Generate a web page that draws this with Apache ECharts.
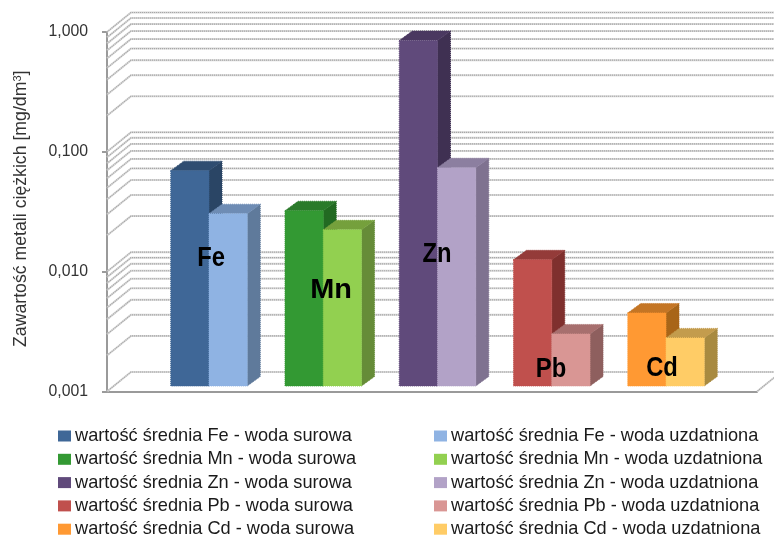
<!DOCTYPE html>
<html><head><meta charset="utf-8">
<style>html,body{margin:0;padding:0;background:#fff}#c{width:774px;height:538px}</style>
<script src="https://cdn.jsdelivr.net/npm/echarts@6/dist/echarts.min.js"></script>
</head><body><div id="c"></div>
<script>
var metals = ['Fe','Mn','Zn','Pb','Cd'];
var rawValues = [0.0627,0.0290,0.763,0.0113,0.00407];
var treatedValues = [0.0274,0.0201,0.0663,0.00272,0.00252];
var gridValues = [0.001,0.002,0.003,0.004,0.005,0.006,0.007,0.008,0.009,
                  0.01,0.02,0.03,0.04,0.05,0.06,0.07,0.08,0.09,
                  0.1,0.2,0.3,0.4,0.5,0.6,0.7,0.8,0.9,1];
var rawColors = [['#3F6797','#2F4D71','#2A4565'],['#339933','#2A7A2A','#226A22'],['#604A7B','#4A3860','#3F3052'],['#C0504D','#943B39','#7F302E'],['#FF9933','#C47524','#A86518']];
var treatedColors = [['#8FB3E3','#6E8CB4','#5F7A9B'],['#92D050','#75A03C','#668C38'],['#B2A2C7','#8C7FA0','#7F7290'],['#D99694','#A76F6E','#8E5F5E'],['#FFCC66','#C39C4D','#A88A40']];

var X_MIN=-0.849, X_MAX=4.84, Y_MIN=0.001, Y_MAX=1, BAR=0.335;
var WALL_DX=24, WALL_DY=-19.5, SHIFT_DX=5, SHIFT_DY=-5.5, DEPTH_DX=13, DEPTH_DY=-9.5;

function nameOf(m,kind){return 'wartość średnia '+m+' - woda '+kind;}

function barSeries(metalIdx,kind,value,col){
  return {
    name:nameOf(metals[metalIdx],kind),
    type:'custom',
    coordinateSystem:'cartesian2d',
    clip:false,
    z:kind==='surowa'?3:4,
    itemStyle:{color:col[0]},
    encode:{x:0,y:1},
    data:[[metalIdx,value]],
    renderItem:function(params,api){
      var c=api.value(0),v=api.value(1);
      var a=kind==='surowa'?c-BAR:c, b=kind==='surowa'?c:c+BAR;
      var tl=api.coord([a,v]), br=api.coord([b,Y_MIN]);
      var x0=tl[0]+SHIFT_DX,x1=br[0]+SHIFT_DX,y0=tl[1]+SHIFT_DY,y1=br[1]+SHIFT_DY;
      var dx=DEPTH_DX,dy=DEPTH_DY;
      function edge(fill){return {fill:fill,stroke:fill,lineWidth:1,lineDash:[1,1]};}
      return {type:'group',children:[
        {type:'polygon',shape:{points:[[x1,y0],[x1+dx,y0+dy],[x1+dx,y1+dy],[x1,y1]]},style:edge(col[2])},
        {type:'polygon',shape:{points:[[x0,y0],[x0+dx,y0+dy],[x1+dx,y0+dy],[x1,y0]]},style:edge(col[1])},
        {type:'rect',shape:{x:x0,y:y0,width:x1-x0,height:y1-y0},style:edge(col[0])}
      ]};
    }
  };
}

var series=[{
  type:'custom',coordinateSystem:'cartesian2d',clip:false,silent:true,z:1,
  encode:{y:0},
  data:gridValues.map(function(v){return [v];}),
  renderItem:function(params,api){
    var v=api.value(0);
    var p=api.coord([X_MIN,v]), q=api.coord([X_MAX,v]);
    var pts=[[p[0],p[1]],[p[0]+WALL_DX,p[1]+WALL_DY],[q[0]+WALL_DX,q[1]+WALL_DY]];
    if(v===Y_MIN){pts=[[p[0],p[1]],[p[0]+WALL_DX,p[1]+WALL_DY],[q[0]+WALL_DX,q[1]+WALL_DY],[q[0],q[1]]];}
    return {type:'group',children:[
      {type:'polyline',shape:{points:pts},style:{fill:null,stroke:'#d8d8d8',lineWidth:2}},
      {type:'polyline',shape:{points:pts},style:{fill:null,stroke:'#a4a4a4',lineWidth:1.2,lineDash:[1,1]}}
    ]};
  }
}];
metals.forEach(function(m,i){
  series.push(barSeries(i,'surowa',rawValues[i],rawColors[i]));
  series.push(barSeries(i,'uzdatniona',treatedValues[i],treatedColors[i]));
});

function legend(kind,left){
  return {
    orient:'vertical',left:left,top:427,height:120,itemWidth:13,itemHeight:11,itemGap:5.3,
    icon:'rect',selectedMode:false,padding:0,
    textStyle:{fontFamily:'Liberation Sans',fontSize:18.2,color:'#1a1a1a',padding:[0,0,0,-1]},
    data:metals.map(function(m){return nameOf(m,kind);})
  };
}
var labelStyle={fontFamily:'Liberation Sans',fontSize:27,fontWeight:'bold',fill:'#000',textAlign:'center',textVerticalAlign:'middle'};
function metalLabel(i,x,y,sx){
  return {type:'text',x:x,y:y,scaleX:sx,z:20,style:Object.assign({text:metals[i]},labelStyle)};
}
var chart=echarts.init(document.getElementById('c'),null,{renderer:'canvas'});
chart.setOption({
  animation:false,
  backgroundColor:'#fff',
  grid:{left:107,right:17,top:32,bottom:146.5},
  legend:[legend('surowa',58),legend('uzdatniona',434)],
  xAxis:{type:'value',min:X_MIN,max:X_MAX,splitLine:{show:false},axisTick:{show:false},axisLabel:{show:false},
    axisLine:{show:true,onZero:false,lineStyle:{color:'#9a9a9a',width:2}}},
  yAxis:{type:'log',logBase:10,min:Y_MIN,max:Y_MAX,
    splitLine:{show:false},minorSplitLine:{show:false},
    axisLine:{show:true,onZero:false,lineStyle:{color:'#9a9a9a',width:2}},
    axisTick:{show:true,length:5,lineStyle:{color:'#9a9a9a',width:2}},
    axisLabel:{margin:19,fontFamily:'Liberation Sans',fontSize:15.8,color:'#333',padding:[2,0,0,0],
      formatter:function(v){return v.toFixed(3).replace('.',',');}},
    name:'{a|Zawartość metali ciężkich [mg/dm}{s|3}{a|]}',
    nameLocation:'middle',nameGap:77,nameRotate:90,
    nameTextStyle:{padding:[0,0,0,6],rich:{a:{fontFamily:'Liberation Sans',fontSize:17.7,color:'#333'},s:{fontFamily:'Liberation Sans',fontSize:11,color:'#333',verticalAlign:'top'}}}
  },
  series:series,
  graphic:[metalLabel(0,211,259,0.88),metalLabel(1,331,291,1.07),metalLabel(2,437,255,0.88),metalLabel(3,551,370,0.88),metalLabel(4,662,369,0.88)]
});
</script></body></html>
